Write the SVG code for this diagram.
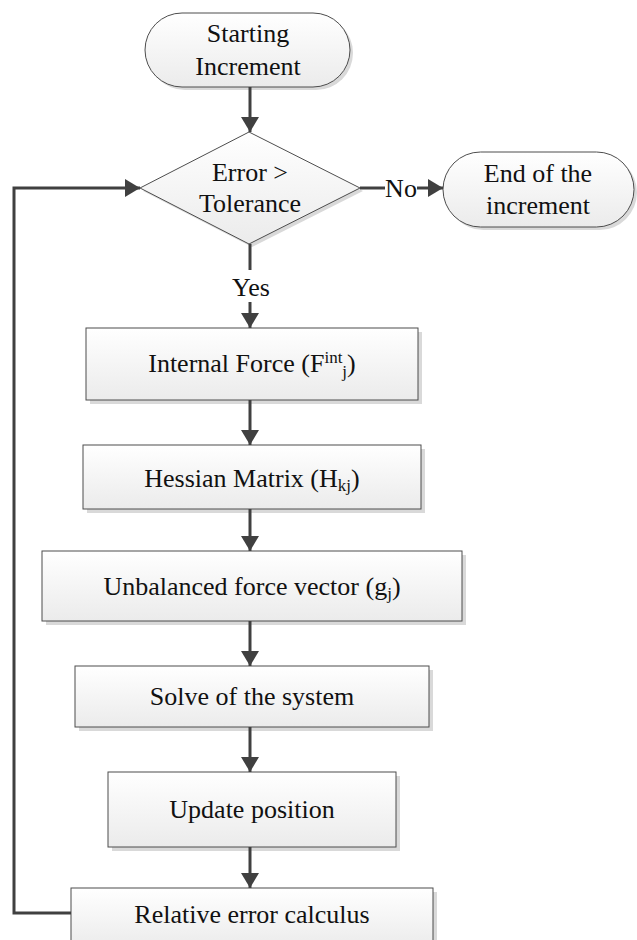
<svg xmlns="http://www.w3.org/2000/svg" width="637" height="940" viewBox="0 0 637 940">
<style>
.sh{fill:#d9d9d9}
.nd{fill:url(#g);stroke:#4d4d4d;stroke-width:1}
.t{font-family:"Liberation Serif","Times New Roman","DejaVu Serif",serif;font-size:26px;fill:#111;text-anchor:middle}
.sm{font-size:17px}
.c{fill:none;stroke:#404040;stroke-width:3}
</style>
<defs>
<linearGradient id="g" x1="0" y1="0" x2="0" y2="1">
<stop offset="0" stop-color="#ffffff"/>
<stop offset="1" stop-color="#ebebeb"/>
</linearGradient>
<marker id="a" markerUnits="userSpaceOnUse" markerWidth="16" markerHeight="18" refX="15" refY="9" orient="auto">
<path d="M0,0 L15,9 L0,18 Z" fill="#404040"/>
</marker>
</defs>
<g id="start">
<rect class="sh" x="148" y="16" width="205" height="74" rx="37"/>
<rect class="nd" x="145" y="13" width="205" height="74" rx="37"/>
<text class="t" x="248" y="42" font-family="Liberation Serif, serif">Starting</text>
<text class="t" x="248" y="75" font-family="Liberation Serif, serif">Increment</text>
</g>
<g id="decision">
<polygon class="sh" points="252,135 363,191 252,247 143,191"/>
<polygon class="nd" points="249,132 360,188 249,244 140,188"/>
<text class="t" x="250" y="181">Error &gt;</text>
<text class="t" x="250" y="212">Tolerance</text>
</g>
<g id="end">
<rect class="sh" x="446" y="155" width="191" height="75" rx="37.5"/>
<rect class="nd" x="443" y="152" width="191" height="75" rx="37.5"/>
<text class="t" x="538" y="182">End of the</text>
<text class="t" x="538" y="214">increment</text>
</g>
<g id="internal">
<rect class="sh" x="90" y="332" width="332" height="72"/>
<rect class="nd" x="86" y="328" width="332" height="72"/>
<text class="t" x="252" y="372">Internal Force (F<tspan class="sm" dy="-9">int</tspan><tspan class="sm" dy="14">j</tspan><tspan dy="-5">)</tspan></text>
</g>
<g id="hessian">
<rect class="sh" x="87" y="449" width="338" height="64"/>
<rect class="nd" x="83" y="445" width="338" height="64"/>
<text class="t" x="252" y="487">Hessian Matrix (H<tspan class="sm" dy="4">kj</tspan><tspan dy="-4">)</tspan></text>
</g>
<g id="unbalanced">
<rect class="sh" x="46" y="555" width="420" height="70"/>
<rect class="nd" x="42" y="551" width="420" height="70"/>
<text class="t" x="252" y="595">Unbalanced force vector (g<tspan class="sm" dy="4">j</tspan><tspan dy="-4">)</tspan></text>
</g>
<g id="solve">
<rect class="sh" x="79" y="670" width="354" height="61"/>
<rect class="nd" x="75" y="666" width="354" height="61"/>
<text class="t" x="252" y="705">Solve of the system</text>
</g>
<g id="update">
<rect class="sh" x="112" y="776" width="288" height="75"/>
<rect class="nd" x="108" y="772" width="288" height="75"/>
<text class="t" x="252" y="818">Update position</text>
</g>
<g id="relative">
<rect class="sh" x="75" y="892" width="362" height="60"/>
<rect class="nd" x="71" y="888" width="362" height="60"/>
<text class="t" x="252" y="923">Relative error calculus</text>
</g>
<g id="connectors">
<line class="c" x1="250" y1="87" x2="250" y2="132" marker-end="url(#a)"/>
<line class="c" x1="250" y1="244" x2="250" y2="270"/>
<text class="t" x="251" y="296">Yes</text>
<line class="c" x1="250" y1="302" x2="250" y2="328" marker-end="url(#a)"/>
<line class="c" x1="360" y1="188" x2="385" y2="188"/>
<text class="t" x="401" y="197">No</text>
<line class="c" x1="417" y1="188" x2="443" y2="188" marker-end="url(#a)"/>
<line class="c" x1="250" y1="400" x2="250" y2="445" marker-end="url(#a)"/>
<line class="c" x1="250" y1="509" x2="250" y2="551" marker-end="url(#a)"/>
<line class="c" x1="250" y1="621" x2="250" y2="666" marker-end="url(#a)"/>
<line class="c" x1="250" y1="727" x2="250" y2="772" marker-end="url(#a)"/>
<line class="c" x1="250" y1="847" x2="250" y2="888" marker-end="url(#a)"/>
<polyline class="c" points="71,913 14,913 14,188 140,188" marker-end="url(#a)"/>
</g>
</svg>
